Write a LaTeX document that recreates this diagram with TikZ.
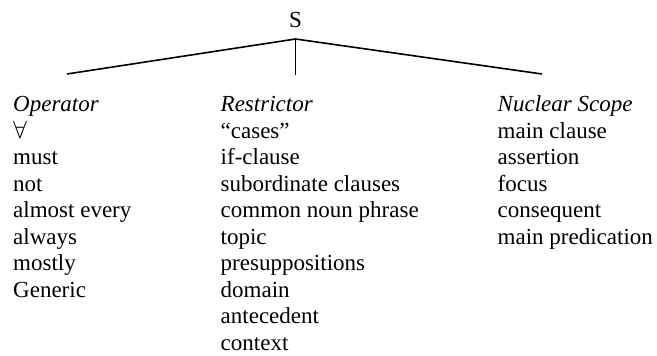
\documentclass[tikz,border=0pt]{standalone}
\usepackage{fontspec}
\setmainfont{Liberation Serif}
\begin{document}
\begin{tikzpicture}[x=1pt,y=1pt,
  txt/.style={anchor=base west, inner sep=0pt, font=\fontsize{23}{26}\selectfont},
  branch/.style={line width=1.6pt, line join=miter}]
\useasboundingbox (0,0) rectangle (657,356);
\node[txt, anchor=base] (S) at (295.5,328) {S};
\coordinate (apex) at (295.5,317);
\coordinate (lend) at (67,282);
\coordinate (mend) at (295.5,281);
\coordinate (rend) at (542,282);
\draw[branch] (lend) -- (apex) -- (rend);
\draw[branch] (apex) -- (mend);
\foreach [count=\i from 0] \t in {{\itshape Operator}, $\forall$, must, not, almost every, always, mostly, Generic}
  \node[txt] (op\i) at (13, 244-26.5*\i) {\t};
\foreach [count=\i from 0] \t in {{\itshape Restrictor}, “cases”, if-clause, subordinate clauses, common noun phrase, topic, presuppositions, domain, antecedent, context}
  \node[txt] (re\i) at (220.5, 244-26.5*\i) {\t};
\foreach [count=\i from 0] \t in {{\itshape Nuclear Scope}, main clause, assertion, focus, consequent, main predication}
  \node[txt] (nu\i) at (497.5, 244-26.5*\i) {\t};
\end{tikzpicture}
\end{document}
